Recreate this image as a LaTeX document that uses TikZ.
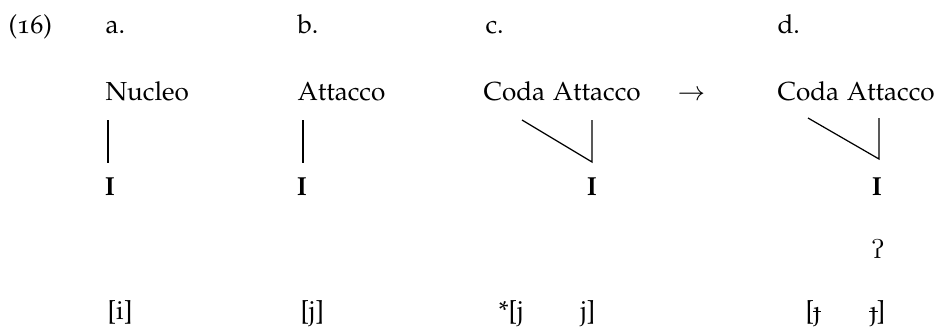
\documentclass[tikz,border=0pt]{standalone}
\usepackage[T1]{fontenc}
\usepackage[osf]{mathpazo}
\usepackage{tipa}
\usetikzlibrary{positioning}
\newcommand{\barj}{\ooalign{\j\cr\hidewidth\rule[0.27em]{0.32em}{0.45pt}\kern0.02em\hidewidth\cr}}

\begin{document}
\begin{tikzpicture}[
  x=0.368pt,y=-0.368pt,
  font=\fontsize{9.6}{11.5}\selectfont,
  txt/.style={anchor=base west,inner sep=0pt},
  elem/.style={anchor=base,inner sep=0pt,font=\fontsize{9.6}{11.5}\selectfont\bfseries},
  assoc/.style={line width=0.45pt}
]
\useasboundingbox (0,0) rectangle (936,329);
\node[txt] (ex) at (8,33) {(16)};
\node[txt] (la) at (105,33) {a.};
\node[txt] (lb) at (297,33) {b.};
\node[txt] (lc) at (485,33) {c.};
\node[txt] (ld) at (777,33) {d.};

\node[txt] (nuc) at (105,100) {Nucleo};
\node[txt] (att) at (297,100) {Attacco};
\node[txt] (codc) at (483,100) {Coda Attacco};
\node[txt] (arr) at (677,100) {$\rightarrow$};
\node[txt] (codd) at (777,100) {Coda Attacco};

\node[elem] (Ia) at (110,195) {I};
\node[elem] (Ib) at (302,195) {I};
\node[elem] (Ic) at (592,195) {I};
\node[elem] (Id) at (877,195) {I};
\node[anchor=base,inner sep=0pt] (gl) at (878,258) {\textipa{P}};

\coordinate (atop) at (108,120);
\coordinate (abot) at (108,163);
\coordinate (btop) at (303,120);
\coordinate (bbot) at (303,163);
\coordinate (cl) at (522,120);
\coordinate (cr) at (592,120);
\coordinate (cap) at (592,162);
\coordinate (dl) at (808,118);
\coordinate (dr) at (879,118);
\coordinate (dap) at (879,159);
\draw[assoc] (atop) -- (abot);
\draw[assoc] (btop) -- (bbot);
\draw[assoc] (cl) -- (cap) -- (cr);
\draw[assoc] (dl) -- (dap) -- (dr);

\node[txt] (si) at (107,319) {[i]};
\node[txt] (sj) at (300,319) {[j]};
\node[txt] (scl) at (498,319) {*[j};
\node[txt] (scr) at (580,319) {j]};
\node[txt] (sdl) at (805,319) {[\barj};
\node[txt] (sdr) at (870,319) {\barj]};
\end{tikzpicture}
\end{document}
